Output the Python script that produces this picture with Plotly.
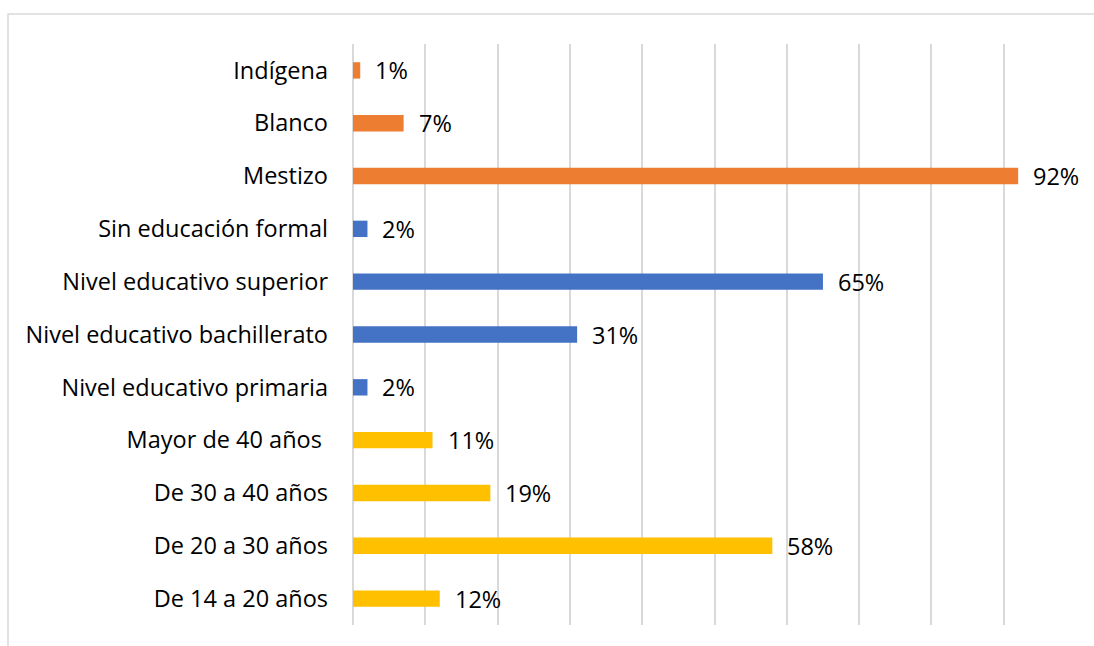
import plotly.graph_objects as go

categories = [
    "De 14 a 20 años", "De 20 a 30 años", "De 30 a 40 años", "Mayor de 40 años\u00a0",
    "Nivel educativo primaria", "Nivel educativo bachillerato", "Nivel educativo superior",
    "Sin educación formal", "Mestizo", "Blanco", "Indígena",
]
values = [0.12, 0.58, 0.19, 0.11, 0.02, 0.31, 0.65, 0.02, 0.92, 0.07, 0.01]
groups = ["edad"] * 4 + ["educacion"] * 4 + ["etnia"] * 3
group_colors = {"edad": "#FFC000", "educacion": "#4472C4", "etnia": "#ED7D31"}

FONT = "Open Sans"
FSIZE = 23.5

fig = go.Figure()
fig.add_trace(go.Bar(
    x=values, y=categories, orientation="h",
    marker=dict(color=[group_colors[g] for g in groups], line=dict(width=0)),
    width=0.31, hoverinfo="skip",
))

for v, c in zip(values, categories):
    fig.add_annotation(
        x=v, y=c, xref="x", yref="y", text=f"{round(v*100)}%",
        showarrow=False, xanchor="left", yanchor="middle", xshift=13, yshift=0,
        font=dict(family=FONT, size=FSIZE, color="#000000"),
    )

# outer chart frame
fig.add_shape(type="rect", xref="paper", yref="paper",
              x0=(8 - 353) / 723, x1=(1100 - 353) / 723,
              y0=(625 - 650) / 581, y1=(625 - 14) / 581,
              line=dict(color="#D9D9D9", width=1.5), fillcolor="rgba(0,0,0,0)", layer="below")

fig.update_layout(
    width=1094, height=646,
    margin=dict(l=353, r=18, t=44, b=21),
    paper_bgcolor="white", plot_bgcolor="white",
    showlegend=False,
    font=dict(family=FONT, size=FSIZE, color="#000000"),
    xaxis=dict(range=[0, 1.0], dtick=0.1, showgrid=True, gridcolor="#D9D9D9", gridwidth=1.5,
               showticklabels=False, zeroline=True, zerolinecolor="#D9D9D9", zerolinewidth=1.5,
               showline=False, ticks="", fixedrange=True),
    yaxis=dict(type="category", categoryorder="array", categoryarray=categories,
               showgrid=False, zeroline=False, showline=False, ticks="",
               ticklabelstandoff=24, tickfont=dict(family=FONT, size=FSIZE, color="#000000")),
)

fig.write_html("out.html")
